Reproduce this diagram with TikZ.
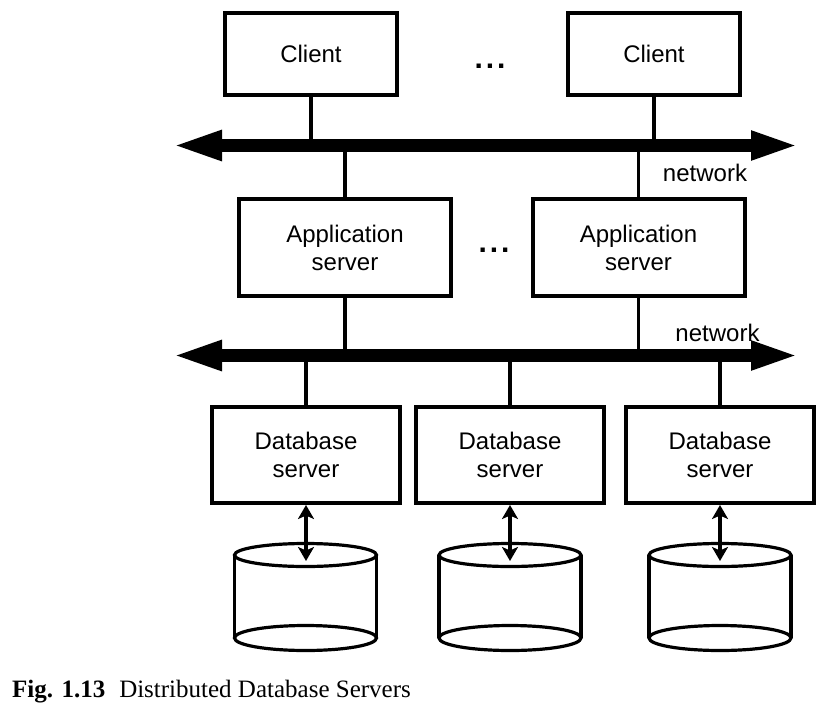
\documentclass[tikz,border=0pt]{standalone}
\usepackage{fontspec}
\setmainfont{Liberation Sans}
\newfontfamily\capfont{Liberation Serif}
\usetikzlibrary{arrows.meta}
\begin{document}
\begin{tikzpicture}[x=1pt,y=-1pt,
  lbl/.style={font=\fontsize{24}{28}\selectfont, align=center},
  box/.style={lbl, draw, line width=4pt, inner sep=0pt, fill=white},
  clientbox/.style={box, minimum width=172pt, minimum height=82pt},
  appbox/.style={box, minimum width=212pt, minimum height=97pt},
  dbbox/.style={box, minimum width=188pt, minimum height=96pt},
  link/.style={line width=3.8pt},
  netbar/.style={line width=13pt, {Triangle[length=51pt,width=27pt]}-{Triangle[length=49pt,width=26pt]}},
  dblink/.style={line width=3.3pt, {Stealth[length=14pt,width=16pt,inset=3.5pt]}-{Stealth[length=14pt,width=16pt,inset=3.5pt]}},
  cyl/.style={line width=3.2pt},
  dotsnode/.style={font=\fontsize{30}{30}\bfseries\selectfont, anchor=base, inner sep=0pt}
]
\useasboundingbox (0,0) rectangle (820,710);

% clients
\node[clientbox] (c1) at (311,54) {Client};
\node[clientbox] (c2) at (654,54) {Client};
\node[dotsnode] (dots1) at (490,68) {.\hspace{3pt}.\hspace{3pt}.};

% network 1
\coordinate (n1L) at (171,145.5);
\coordinate (n1R) at (800,145.5);

% application servers
\node[appbox] (a1) at (345,247.5) {Application\\server};
\node[appbox] (a2) at (638.5,247.5) {Application\\server};
\node[dotsnode] (dots2) at (494,252) {.\hspace{3pt}.\hspace{3pt}.};

% network 2
\coordinate (n2L) at (171,355.5);
\coordinate (n2R) at (800,355.5);

% database servers
\node[dbbox] (d1) at (306,455) {Database\\server};
\node[dbbox] (d2) at (510,455) {Database\\server};
\node[dbbox] (d3) at (720,455) {Database\\server};

% links to networks
\draw[link] (c1.south) -- (c1.south |- n1L);
\draw[link] (c2.south) -- (c2.south |- n1L);
\draw[link] (a1.north) -- (a1.north |- n1L);
\draw[link] (a2.north) -- (a2.north |- n1L);
\draw[link] (a1.south) -- (a1.south |- n2L);
\draw[link] (a2.south) -- (a2.south |- n2L);
\draw[link] (d1.north) -- (d1.north |- n2L);
\draw[link] (d2.north) -- (d2.north |- n2L);
\draw[link] (d3.north) -- (d3.north |- n2L);

% network bars
\draw[netbar] (n1L) -- (n1R);
\draw[netbar] (n2L) -- (n2R);
\node[lbl, inner sep=0pt] (net1) at (705,173) {network};
\node[lbl, inner sep=0pt] (net2) at (717.5,333) {network};

% disks
\foreach \i/\cx in {1/305.5, 2/510, 3/720}{
  \draw[cyl] (\cx-71,555) -- (\cx-71,638);
  \draw[cyl] (\cx+71,555) -- (\cx+71,638);
  \draw[cyl] (\cx,638) ellipse[x radius=71, y radius=12.5];
  \draw[cyl, fill=white] (\cx,555) ellipse[x radius=71, y radius=11.5];
  \coordinate (disk\i) at (\cx,561);
}
\draw[dblink] (d1.south) -- (d1.south |- disk1);
\draw[dblink] (d2.south) -- (d2.south |- disk2);
\draw[dblink] (d3.south) -- (d3.south |- disk3);

% caption
\node[anchor=base west, inner sep=0pt, font=\capfont\fontsize{25}{30}\selectfont] (cap) at (12,697)
  {\textbf{Fig. 1.13}\hspace{14pt}Distributed Database Servers};
\end{tikzpicture}
\end{document}
